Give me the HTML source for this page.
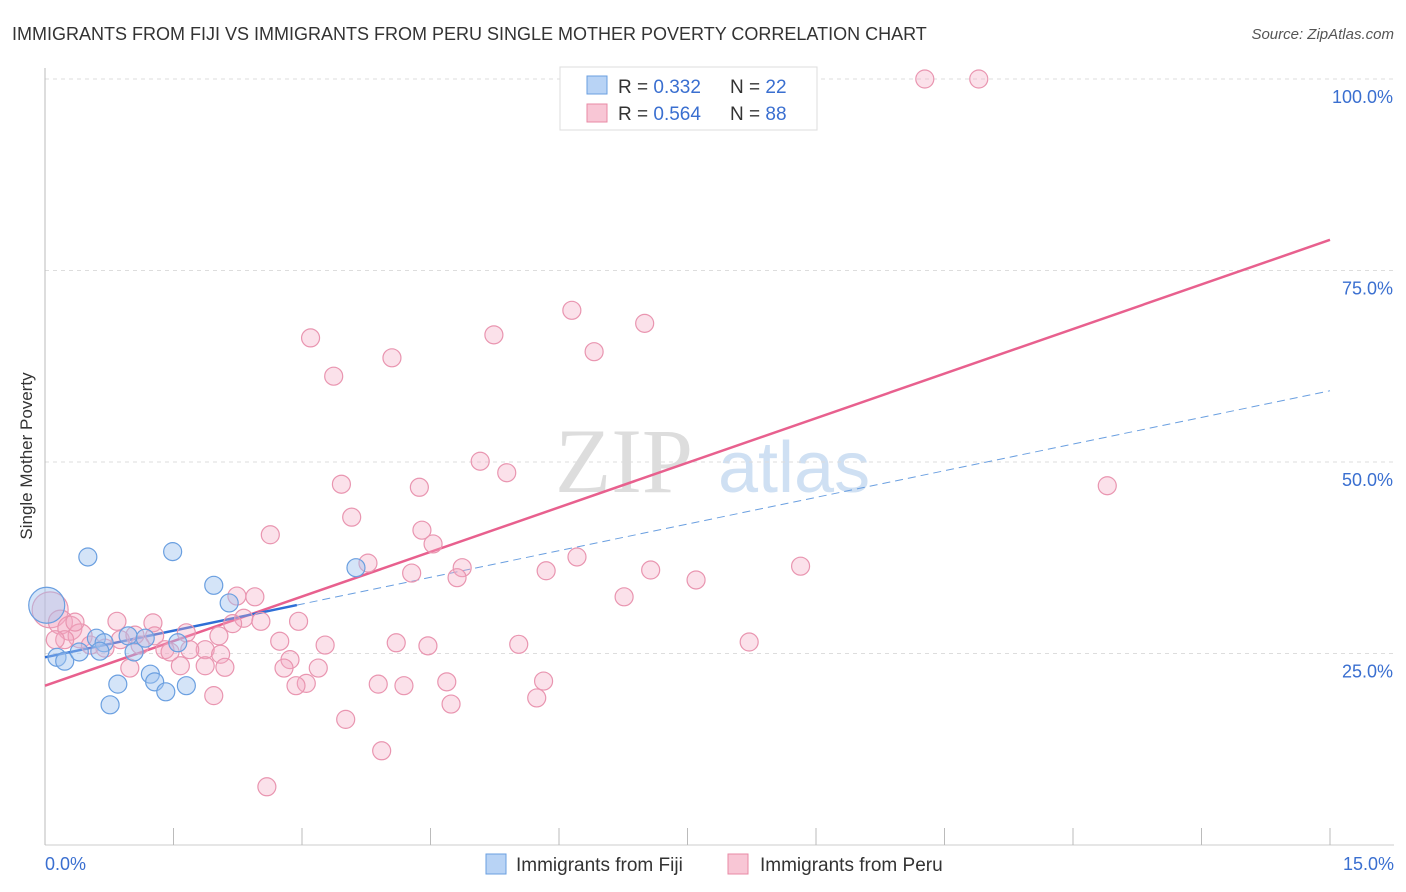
<!DOCTYPE html>
<html><head><meta charset="utf-8"><style>
body{margin:0;background:#fff;font-family:"Liberation Sans",sans-serif}
svg{display:block}
</style></head><body>
<svg id="c" width="1406" height="892">
<text x="12" y="40" font-size="18" fill="#333">IMMIGRANTS FROM FIJI VS IMMIGRANTS FROM PERU SINGLE MOTHER POVERTY CORRELATION CHART</text>
<text x="1394" y="39" font-size="15" fill="#555" text-anchor="end" font-style="italic">Source: ZipAtlas.com</text>
<text x="32" y="456" font-size="17" fill="#333" text-anchor="middle" transform="rotate(-90 32 456)">Single Mother Poverty</text>
<g><text x="555" y="492" font-size="92" fill="#ddd" font-family="Liberation Serif,serif">ZIP</text><text x="718" y="492" font-size="72" fill="#cfe0f3">atlas</text></g>
<g id="grid"></g><g id="axes"></g><g id="lines"></g><g id="pts"></g>
<g>
<rect x="560" y="67" width="257" height="63" fill="#fff" stroke="#ddd"/>
<rect x="587" y="76" width="20" height="18" fill="#b8d3f5" stroke="#6a9fe0"/>
<rect x="587" y="104" width="20" height="18" fill="#f8c6d5" stroke="#e88aa5"/>
<text x="618" y="93" font-size="19" fill="#333">R = <tspan fill="#3a6fd0">0.332</tspan><tspan x="730">N = </tspan><tspan fill="#3a6fd0">22</tspan></text>
<text x="618" y="120" font-size="19" fill="#333">R = <tspan fill="#3a6fd0">0.564</tspan><tspan x="730">N = </tspan><tspan fill="#3a6fd0">88</tspan></text>
</g>
<g>
<rect x="486" y="854" width="20" height="20" fill="#b8d3f5" stroke="#6a9fe0"/>
<text x="516" y="871" font-size="19" fill="#333">Immigrants from Fiji</text>
<rect x="728" y="854" width="20" height="20" fill="#f8c6d5" stroke="#e88aa5"/>
<text x="760" y="871" font-size="19" fill="#333">Immigrants from Peru</text>
</g>
</svg>
<script>
const yTicks=[25,50,75,100];
const yTickLabels=["25.0%","50.0%","75.0%","100.0%"];
const xTickLabels=["0.0%","15.0%"];
const fijiX=[0.50,1.49,1.97,2.15,3.63,0.14,0.23,0.40,0.60,0.69,0.97,1.04,1.17,1.55,0.85,1.23,1.28,1.41,1.65,0.76,0.02,0.64];
const fijiY=[37.6,38.3,33.9,31.6,36.2,24.5,24.0,25.2,27.0,26.4,27.3,25.2,27.0,26.4,21.0,22.3,21.3,20.0,20.8,18.3,31.3,25.3];
const fijiR=[9,9,9,9,9,9,9,9,9,9,9,9,9,9,9,9,9,9,9,9,18,9];
const peruX=[10.27,10.90,6.91,6.15,7.00,5.24,3.10,6.41,4.05,3.37,5.08,5.39,3.46,4.37,12.40,3.58,4.40,2.63,4.53,6.21,3.77,4.87,5.85,7.07,8.82,4.28,4.81,7.60,6.76,2.24,2.45,0.84,1.26,2.32,2.96,2.19,2.52,1.65,2.03,2.74,3.27,4.10,4.47,5.53,8.22,1.28,1.87,2.05,1.40,2.86,2.79,3.19,3.05,2.93,3.89,4.19,4.69,5.82,1.58,1.87,2.10,0.99,1.97,3.51,4.74,5.74,3.93,2.59,0.06,0.18,0.29,0.41,0.53,0.70,0.88,1.11,0.35,0.23,1.46,1.69,1.05,0.12];
const peruY=[100,100,100,69.8,68.1,66.6,66.2,64.4,63.6,61.2,50.1,48.6,47.1,46.7,46.9,42.8,41.1,40.5,39.3,37.6,36.8,36.2,35.8,35.9,36.4,35.5,34.9,34.6,32.4,32.5,32.4,29.2,29.0,29.6,29.2,28.9,29.2,27.7,27.3,26.6,26.1,26.4,26.0,26.2,26.5,27.3,25.5,24.9,25.5,24.2,23.1,23.1,21.1,20.8,21.0,20.8,21.3,21.4,23.4,23.4,23.2,23.1,19.5,16.4,18.4,19.2,12.3,7.6,30.7,29.1,28.3,27.3,26.1,25.7,26.8,26.1,29.1,26.8,25.2,25.5,27.4,26.8];
const peruR=peruX.map((v,i)=>i===68?18:(i>=69&&i<=71)?12:9);
const fijiTrend=[24.5,59.3]; const fijiSolidEnd=2.94;
const peruTrend=[20.8,79.0];
const NS='http://www.w3.org/2000/svg';
const X=v=>45+v/15*1285, Y=v=>845-v/100*766;
function mk(p,t,a){const e=document.createElementNS(NS,t);for(const k in a)e.setAttribute(k,a[k]);document.getElementById(p).appendChild(e);return e;}
yTicks.forEach((t,i)=>{
 const l=mk('grid','line',{x1:45,x2:1394,y1:Y(t),y2:Y(t),stroke:'#ddd','stroke-dasharray':'4 4'});
 
 
 const tx=mk('grid','text',{x:1393,y:Y(t)+24,'font-size':18,fill:'#3a6fd0','text-anchor':'end'});tx.textContent=yTickLabels[i];
 
 
});
mk('axes','line',{x1:45,x2:45,y1:68,y2:845,stroke:'#bbb'});
mk('axes','line',{x1:45,x2:1394,y1:845,y2:845,stroke:'#ccc'});
for(let i=0;i<=10;i++){const t=mk('axes','line',{x1:X(i*1.5),x2:X(i*1.5),y1:828,y2:845,stroke:'#bbb'});
 
 }
const a=mk('axes','text',{x:45,y:870,'font-size':18,fill:'#3a6fd0'});a.textContent=xTickLabels[0];


const b=mk('axes','text',{x:1394,y:870,'font-size':18,fill:'#3a6fd0','text-anchor':'end'});b.textContent=xTickLabels[1];


function pts(xs,ys,rs,fill,stroke,name){xs.forEach((x,i)=>{const c=mk('pts','circle',{cx:X(x),cy:Y(ys[i]),r:rs[i],fill:fill,stroke:stroke,'stroke-width':1.2});
 
 });}
pts(peruX,peruY,peruR,'rgba(244,170,195,0.35)','#e995b0','peru-point');
pts(fijiX,fijiY,fijiR,'rgba(160,195,240,0.45)','#6a9fe0','fiji-point');
const ft=v=>fijiTrend[0]+(fijiTrend[1]-fijiTrend[0])*v/15, pt=v=>peruTrend[0]+(peruTrend[1]-peruTrend[0])*v/15;
let l1=mk('lines','line',{x1:X(0),y1:Y(pt(0)),x2:X(15),y2:Y(pt(15)),stroke:'#e8608e','stroke-width':2.5});


let l2=mk('lines','line',{x1:X(0),y1:Y(ft(0)),x2:X(fijiSolidEnd),y2:Y(ft(fijiSolidEnd)),stroke:'#2f6fd6','stroke-width':2.5});


let l3=mk('lines','line',{x1:X(fijiSolidEnd),y1:Y(ft(fijiSolidEnd)),x2:X(15),y2:Y(ft(15)),stroke:'#6a9fe0','stroke-width':1,'stroke-dasharray':'8 5'});


</script>
</body></html>
